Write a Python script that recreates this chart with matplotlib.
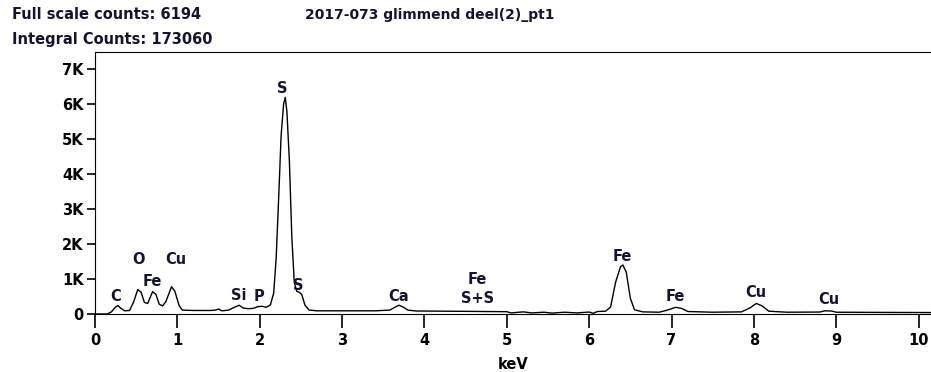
import matplotlib.pyplot as plt

# EDS spectrum
kev = [0.00, 0.15, 0.20, 0.25, 0.28, 0.31, 0.36, 0.42, 0.47, 0.52, 0.56, 0.60,
       0.64, 0.70, 0.74, 0.78, 0.82, 0.86, 0.93, 0.97, 1.02, 1.06, 1.20, 1.40,
       1.46, 1.50, 1.54, 1.62, 1.70, 1.75, 1.80, 1.86, 1.92, 1.98, 2.03, 2.08,
       2.13, 2.17, 2.20, 2.23, 2.26, 2.29, 2.31, 2.33, 2.36, 2.39, 2.42, 2.45,
       2.48, 2.51, 2.55, 2.60, 2.70, 3.00, 3.40, 3.58, 3.64, 3.69, 3.74, 3.80,
       3.90, 4.50, 5.00, 5.05, 5.20, 5.30, 5.45, 5.55, 5.70, 5.85, 6.00, 6.05,
       6.10, 6.20, 6.26, 6.32, 6.38, 6.41, 6.45, 6.50, 6.55, 6.65, 6.85, 6.95,
       7.05, 7.12, 7.20, 7.50, 7.85, 7.95, 8.03, 8.10, 8.18, 8.40, 8.80, 8.86,
       8.94, 9.00, 9.50, 10.20]
counts = [0, 0, 60, 200, 240, 170, 90, 100, 350, 700, 620, 330,
          300, 640, 560, 280, 230, 350, 780, 650, 250, 110, 100, 100,
          110, 140, 90, 110, 200, 250, 170, 150, 160, 210, 220, 190,
          260, 600, 1600, 3300, 5100, 6000, 6194, 5800, 4400, 2200, 900, 650,
          620, 560, 250, 110, 90, 90, 90, 110, 190, 250, 200, 110,
          85, 75, 65, 30, 60, 30, 50, 25, 50, 30, 55, 20,
          70, 80, 200, 900, 1350, 1400, 1200, 450, 120, 60, 50, 110,
          190, 160, 70, 50, 60, 170, 300, 230, 80, 50, 55, 90,
          85, 50, 45, 40]

# element labels: (text, keV, counts)
peak_labels = [('C', 0.25, 510), ('O', 0.53, 1570), ('Fe', 0.70, 940),
               ('Cu', 0.98, 1570), ('Si', 1.74, 540), ('P', 1.99, 510),
               ('S', 2.27, 6460), ('S', 2.47, 800), ('Ca', 3.69, 490),
               ('Fe', 4.64, 1000), ('S+S', 4.64, 430), ('Fe', 6.40, 1630),
               ('Fe', 7.05, 490), ('Cu', 8.02, 600), ('Cu', 8.91, 400)]

y_ticks = [0, 1000, 2000, 3000, 4000, 5000, 6000, 7000]
y_tick_labels = ['0', '1K', '2K', '3K', '4K', '5K', '6K', '7K']
x_ticks = [0, 1, 2, 3, 4, 5, 6, 7, 8, 9, 10]

label_color = '#14142e'

fig = plt.figure(figsize=(9.31, 3.72), dpi=100)
ax = fig.add_axes([0.102, 0.156, 0.898, 0.704])
ax.plot(kev, counts, color='black', lw=1.0)

for txt, x, y in peak_labels:
    ax.text(x, y, txt, ha='center', va='center', fontsize=10.5,
            fontweight='bold', color=label_color)

ax.set_xlim(0, 10.15)
ax.set_ylim(0, 7490)
ax.set_yticks(y_ticks)
ax.set_yticklabels(y_tick_labels)
ax.set_xticks(x_ticks)
ax.tick_params(axis='y', direction='out', length=6, width=1.2, labelsize=10.5, pad=2)
ax.tick_params(axis='x', direction='out', length=10, width=1.2, labelsize=10.5, pad=4)
for lab in ax.get_xticklabels() + ax.get_yticklabels():
    lab.set_fontweight('bold')
ax.spines['right'].set_visible(False)
ax.set_xlabel('keV', fontsize=10.5, fontweight='bold', labelpad=6)

fig.text(0.013, 0.96, 'Full scale counts: 6194', fontsize=10.5,
         fontweight='bold', va='center', color=label_color)
fig.text(0.013, 0.895, 'Integral Counts: 173060', fontsize=10.5,
         fontweight='bold', va='center', color=label_color)
fig.text(0.462, 0.96, '2017-073 glimmend deel(2)_pt1', fontsize=10,
         fontweight='bold', va='center', ha='center', color=label_color)

plt.savefig('out.png', dpi=100)
